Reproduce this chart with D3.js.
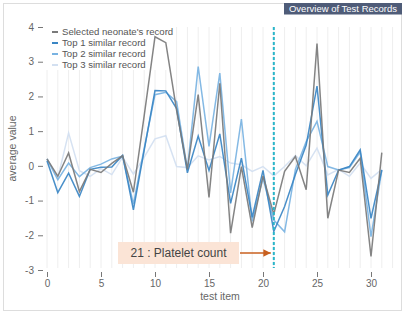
<!DOCTYPE html>
<html lang="en">
<head>
<meta charset="UTF-8">
<script src="https://d3js.org/d3.v7.min.js"></script>
<style>
  body { margin: 0; background: #fff; font-family: "Liberation Sans", Arial, sans-serif; }
  .tick text { fill: #666; font-size: 10px; font-family: "Liberation Sans", Arial, sans-serif; }
  .tick line { stroke: #777; }
</style>
</head>
<body>
<div id="chart"></div>
<script>
// Data
const items = d3.range(0, 32);
const selected = [0.2, -0.3, 0.37, -0.74, -0.1, -0.19, 0.07, 0.29, -0.76, 1.45, 3.72, 3.55, 1.6, -0.1, 2.05, -0.91,
  2.38, -1.94, -0.02, -1.78, -0.29, -1.39, -0.16, 0.27, -0.69, 3.52, -1.51, -0.12, -0.19, 0.22, -2.61, 0.38];
const top1 = [0.15, -0.77, -0.21, -0.88, -0.1, -0.04, -0.03, 0.3, -1.27, 0.45, 2.17, 2.16, 1.65, -0.2, 0.86, -0.13,
  0.92, -1.08, 0.22, -1.48, -0.13, -1.89, -1.17, -0.25, 0.6, 2.3, -0.84, -0.12, -0.02, 0.46, -1.51, -0.12];
const top2 = [0.2, -0.4, 0.08, -0.31, -0.05, 0.05, 0.2, 0.28, -1.1, 0.5, 2.05, 2.12, 1.85, -0.1, 2.86, 0.56,
  2.67, -0.78, 1.35, -1.6, -0.35, -1.56, -1.9, -0.1, 0.7, 1.28, -0.02, -0.12, -0.05, 0.4, -2.04, -0.12];
const top3 = [0.2, -0.35, 0.95, -0.14, -0.3, -0.08, -0.25, 0.25, -0.24, 0.25, 0.78, 0.87, -0.02, -0.05, 0.29, 0.17,
  0.27, 0.08, 0.03, -0.16, -0.02, -0.29, -0.02, 0.3, 0.0, 0.51, -0.26, -0.1, -0.3, 0.08, -0.36, -0.1];
const seriesNames = ["Selected neonate's record", "Top 1 similar record", "Top 2 similar record", "Top 3 similar record"];
const seriesColors = ["#7a7a7a", "#3a86c4", "#79b3e2", "#d3e0f1"];
const yTicks = [-3, -2, -1, 0, 1, 2, 3, 4];
const xTicks = [0, 5, 10, 15, 20, 25, 30];
const focusItem = 21;
const focusLabel = "21 : Platelet count";
const panelTitle = "Overview of Test Records";

const width = 407, height = 317;

const svg = d3.select("#chart").append("svg")
  .attr("width", width)
  .attr("height", height);

// frame
svg.append("rect")
  .attr("x", 3.5).attr("y", 3.5)
  .attr("width", 398).attr("height", 307)
  .attr("fill", "#fff")
  .attr("stroke", "#ddd");

// scales
const x = d3.scaleLinear().domain([0, 32]).range([47, 392.6]);
const y = d3.scaleLinear().domain([-3, 4]).range([270, 27]);

// vertical grid
svg.append("g").selectAll("line")
  .data(d3.range(0, 33))
  .join("line")
  .attr("x1", d => x(d)).attr("x2", d => x(d))
  .attr("y1", y(4)).attr("y2", y(-3) - 2)
  .attr("stroke", "#eee");

// legend background hides the grid
svg.append("rect")
  .attr("x", 46).attr("y", 25)
  .attr("width", 128).attr("height", 45)
  .attr("fill", "#fff");

// axes
const yAxis = svg.append("g")
  .attr("transform", "translate(43,0)")
  .call(d3.axisLeft(y).tickValues(yTicks).tickFormat(d => String(d)).tickSize(5).tickPadding(4));
yAxis.select(".domain").remove();

const xAxis = svg.append("g")
  .attr("transform", `translate(0,272)`)
  .call(d3.axisBottom(x).tickValues(xTicks).tickFormat(d => String(d)).tickSize(5).tickPadding(3));
xAxis.select(".domain").remove();

svg.append("text")
  .attr("x", 220).attr("y", 300)
  .attr("text-anchor", "middle")
  .attr("font-size", 10.5)
  .attr("fill", "#666")
  .text("test item");

svg.append("text")
  .attr("transform", `translate(16,${(y(4) + y(-3)) / 2}) rotate(-90)`)
  .attr("text-anchor", "middle")
  .attr("font-size", 10.5)
  .attr("fill", "#666")
  .text("average value");

// lines (lightest first so the selected record is on top)
const allSeries = [selected, top1, top2, top3];
const line = d3.line().x((d, i) => x(items[i])).y(d => y(d));
[3, 2, 1, 0].forEach(k => {
  svg.append("path")
    .datum(allSeries[k])
    .attr("fill", "none")
    .attr("stroke", seriesColors[k])
    .attr("stroke-width", 1.5)
    .attr("opacity", 0.92)
    .attr("d", line);
});

// legend
const legend = svg.append("g").selectAll("g")
  .data(seriesNames)
  .join("g")
  .attr("transform", (d, i) => `translate(52,${32 + i * 11})`);
legend.append("line")
  .attr("x1", 0).attr("x2", 6)
  .attr("stroke", (d, i) => seriesColors[i])
  .attr("stroke-width", 2);
legend.append("text")
  .attr("x", 10).attr("dy", "0.35em")
  .attr("font-size", 9.6)
  .attr("fill", "#555")
  .text(d => d);

// focus line
svg.append("line")
  .attr("x1", x(focusItem)).attr("x2", x(focusItem))
  .attr("y1", y(4)).attr("y2", y(-3) - 2)
  .attr("stroke", "#29b5c9")
  .attr("stroke-width", 2)
  .attr("stroke-dasharray", "3,2");

// annotation
svg.append("defs").append("marker")
  .attr("id", "arrow")
  .attr("viewBox", "0 0 10 10")
  .attr("refX", 10).attr("refY", 5)
  .attr("markerWidth", 5).attr("markerHeight", 5)
  .attr("orient", "auto")
  .append("path")
  .attr("d", "M0,0L10,5L0,10z")
  .attr("fill", "#c8601f");

svg.append("rect")
  .attr("x", 118).attr("y", 242)
  .attr("width", 121).attr("height", 22)
  .attr("fill", "#fbe4d6");
svg.append("text")
  .attr("x", 178.5).attr("y", 253)
  .attr("dy", "0.35em")
  .attr("text-anchor", "middle")
  .attr("font-size", 12)
  .attr("fill", "#444")
  .text(focusLabel);
svg.append("line")
  .attr("x1", 240).attr("x2", x(focusItem) - 3)
  .attr("y1", 253).attr("y2", 253)
  .attr("stroke", "#c8601f")
  .attr("stroke-width", 1.5)
  .attr("marker-end", "url(#arrow)");

// title tag
svg.append("rect")
  .attr("x", 284).attr("y", 3)
  .attr("width", 118).attr("height", 11.5)
  .attr("fill", "#4f5c78");
svg.append("text")
  .attr("x", 343).attr("y", 9)
  .attr("dy", "0.35em")
  .attr("text-anchor", "middle")
  .attr("font-size", 9.5)
  .attr("fill", "#fff")
  .text(panelTitle);
</script>
</body>
</html>
